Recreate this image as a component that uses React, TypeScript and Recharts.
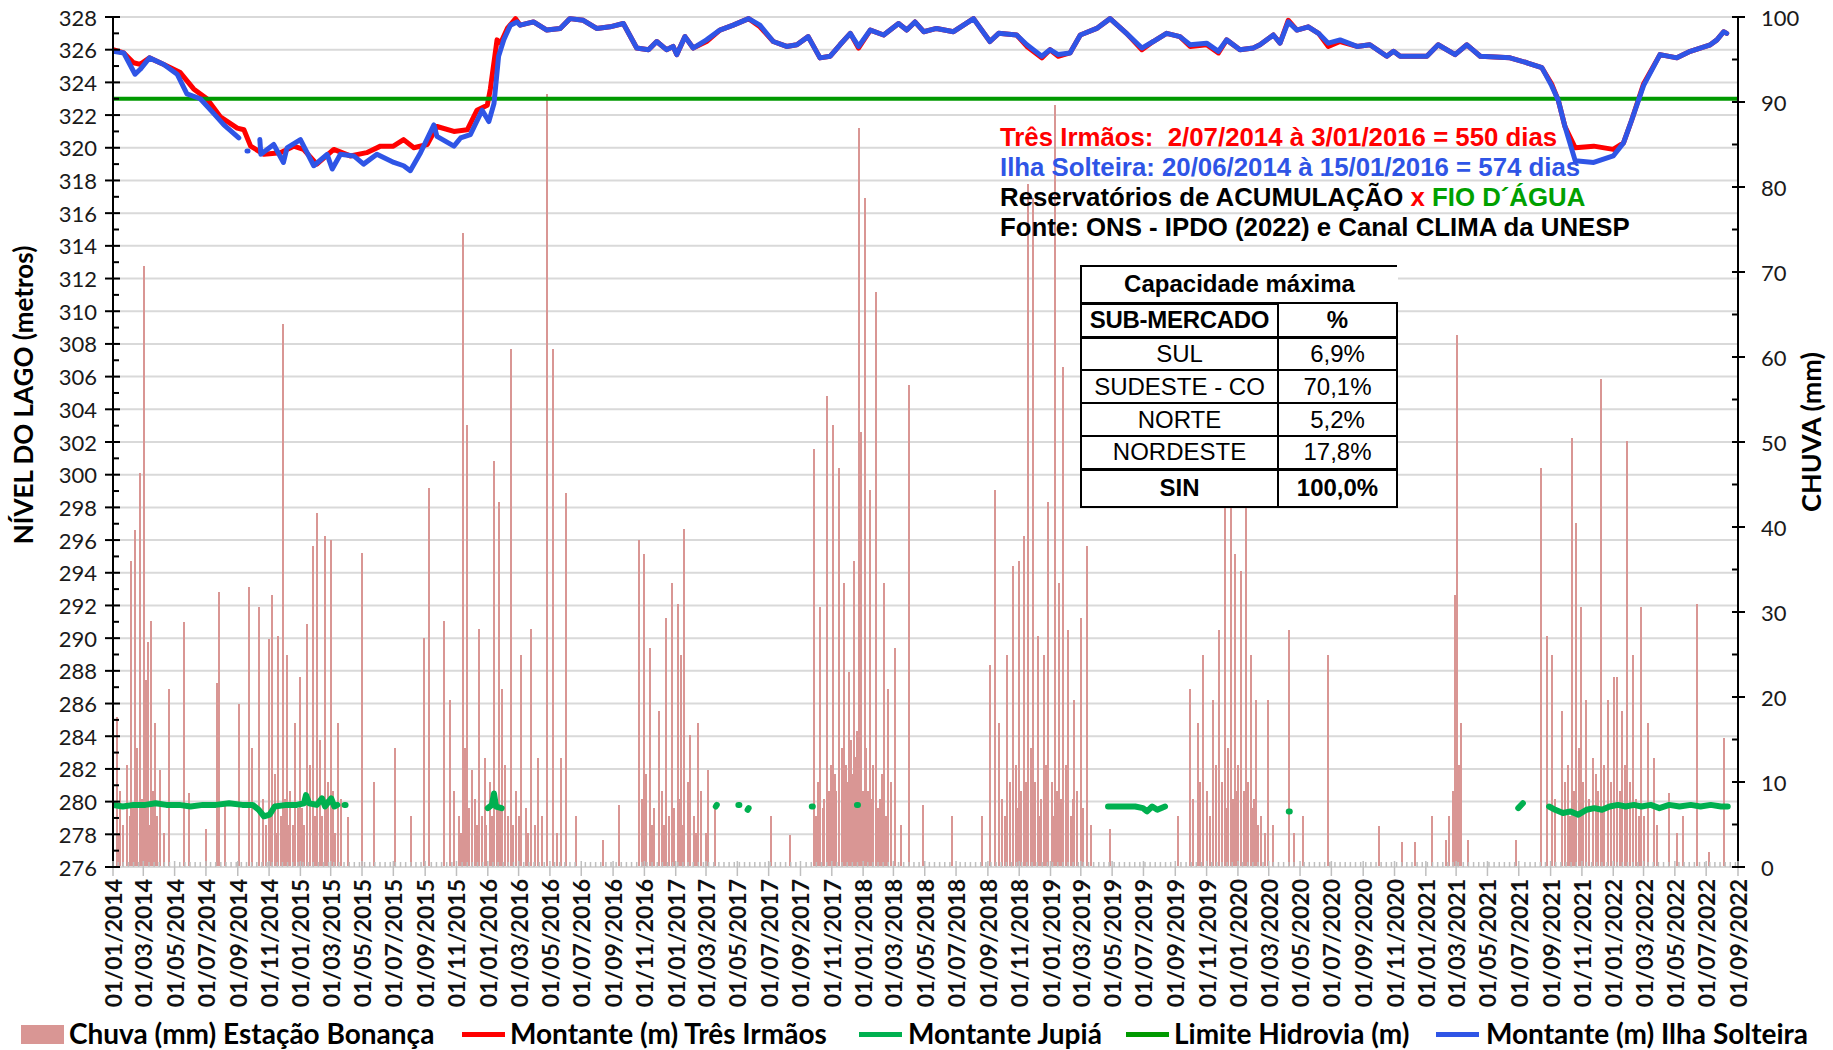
import React from 'react';
import { ComposedChart, Bar, Line, XAxis, YAxis, CartesianGrid } from 'recharts';

// ---- data ----
const START = '2014-01-01';
const END = '2022-09-01';

const levelTicks = [276, 278, 280, 282, 284, 286, 288, 290, 292, 294, 296, 298, 300, 302, 304, 306, 308, 310, 312, 314, 316, 318, 320, 322, 324, 326, 328];
const rainTicks = [0, 10, 20, 30, 40, 50, 60, 70, 80, 90, 100];

const limiteHidrovia: [string, number][] = [['2014-01-01', 323], ['2022-09-01', 323]];

const tresIrmaos: [string, number][] = [
  ['2014-01-01', 326.0], ['2014-01-22', 325.8], ['2014-02-10', 325.2], ['2014-02-23', 325.1], ['2014-03-13', 325.5],
  ['2014-04-10', 325.1], ['2014-05-12', 324.6], ['2014-06-07', 323.6], ['2014-07-03', 323.0], ['2014-07-29', 321.9],
  ['2014-08-31', 321.2], ['2014-09-13', 321.1], ['2014-09-26', 320.1], ['2014-10-22', 319.6], ['2014-11-23', 319.7],
  ['2014-12-19', 320.1], ['2015-01-07', 319.9], ['2015-02-02', 319.0], ['2015-03-07', 319.9], ['2015-04-08', 319.5],
  ['2015-05-10', 319.7], ['2015-06-06', 320.1], ['2015-07-01', 320.1], ['2015-07-21', 320.5], ['2015-08-10', 320.0],
  ['2015-09-05', 320.2], ['2015-09-24', 321.3], ['2015-10-27', 321.0], ['2015-11-22', 321.1], ['2015-12-11', 322.3],
  ['2015-12-31', 322.6], ['2016-01-06', 323.6], ['2016-01-19', 326.6], ['2016-01-26', 326.4], ['2016-02-08', 327.3],
  ['2016-02-24', 327.9],
  ['2016-03-04', 327.5], ['2016-03-30', 327.7], ['2016-04-25', 327.2], ['2016-05-21', 327.3], ['2016-06-09', 327.9],
  ['2016-07-05', 327.8], ['2016-07-31', 327.3], ['2016-08-26', 327.4], ['2016-09-21', 327.6], ['2016-10-17', 326.1],
  ['2016-11-09', 326.0], ['2016-11-25', 326.5], ['2016-12-14', 326.0], ['2016-12-27', 326.2], ['2017-01-03', 325.7],
  ['2017-01-19', 326.8], ['2017-02-04', 326.1], ['2017-03-02', 326.5], ['2017-03-28', 327.2], ['2017-04-23', 327.5],
  ['2017-05-23', 327.9], ['2017-06-14', 327.4], ['2017-07-10', 326.5], ['2017-08-05', 326.2], ['2017-08-25', 326.3],
  ['2017-09-16', 326.8], ['2017-10-09', 325.5], ['2017-10-29', 325.6], ['2017-11-17', 326.3], ['2017-12-07', 327.0],
  ['2017-12-23', 326.1], ['2018-01-15', 327.2], ['2018-02-10', 326.9], ['2018-03-11', 327.6], ['2018-03-27', 327.2],
  ['2018-04-12', 327.7], ['2018-04-29', 327.1], ['2018-05-24', 327.3], ['2018-06-26', 327.1], ['2018-08-04', 327.9],
  ['2018-09-05', 326.5], ['2018-09-22', 327.0], ['2018-10-27', 326.9], ['2018-11-16', 326.2], ['2018-12-15', 325.5],
  ['2018-12-31', 326.0], ['2019-01-16', 325.6], ['2019-02-08', 325.8], ['2019-02-28', 326.9], ['2019-04-01', 327.3],
  ['2019-04-27', 327.9], ['2019-05-29', 327.0], ['2019-06-28', 326.0], ['2019-07-20', 326.5], ['2019-08-15', 327.0],
  ['2019-09-10', 326.8], ['2019-09-30', 326.2], ['2019-11-01', 326.3], ['2019-11-24', 325.8], ['2019-12-10', 326.6],
  ['2020-01-05', 326.0], ['2020-01-31', 326.1], ['2020-02-13', 326.3], ['2020-03-10', 326.9], ['2020-03-23', 326.4],
  ['2020-04-08', 327.8], ['2020-04-25', 327.2], ['2020-05-17', 327.4], ['2020-06-06', 327.0], ['2020-06-25', 326.2],
  ['2020-07-18', 326.5], ['2020-08-20', 326.2], ['2020-09-14', 326.3], ['2020-10-17', 325.6], ['2020-10-30', 325.9],
  ['2020-11-12', 325.6], ['2021-01-03', 325.6], ['2021-01-25', 326.3], ['2021-02-27', 325.7], ['2021-03-22', 326.3],
  ['2021-04-17', 325.6], ['2021-06-14', 325.5], ['2021-07-17', 325.2], ['2021-08-15', 324.9], ['2021-09-03', 323.9],
  ['2021-09-16', 322.9], ['2021-09-29', 321.3], ['2021-10-19', 320.0], ['2021-11-24', 320.1], ['2022-01-01', 319.9],
  ['2022-01-21', 320.3], ['2022-02-06', 321.7], ['2022-03-01', 323.9], ['2022-04-02', 325.7], ['2022-05-05', 325.5],
  ['2022-05-31', 325.9], ['2022-07-09', 326.3], ['2022-07-22', 326.6], ['2022-08-04', 327.1], ['2022-08-10', 327.0],
];

const ilhaSolteira: [string, number | null][] = [
  ['2014-01-01', 325.9], ['2014-01-22', 325.8], ['2014-02-13', 324.5], ['2014-02-23', 324.8], ['2014-03-13', 325.5],
  ['2014-04-10', 325.1], ['2014-05-06', 324.5], ['2014-05-25', 323.3], ['2014-06-20', 323.0], ['2014-07-16', 322.1],
  ['2014-08-05', 321.4], ['2014-09-03', 320.6], ['2014-09-10', null], ['2014-09-19', 319.8], ['2014-09-21', 319.8],
  ['2014-09-30', null], ['2014-10-14', 320.5], ['2014-10-16', 319.6], ['2014-11-10', 320.2], ['2014-11-29', 319.1],
  ['2014-12-06', 320.0], ['2015-01-01', 320.5], ['2015-01-27', 318.9], ['2015-02-22', 319.6], ['2015-03-04', 318.7],
  ['2015-03-20', 319.6], ['2015-04-15', 319.5], ['2015-05-04', 319.0], ['2015-05-30', 319.6], ['2015-07-02', 319.1],
  ['2015-07-21', 318.9], ['2015-08-03', 318.6], ['2015-08-23', 319.7], ['2015-09-18', 321.4], ['2015-09-24', 320.7],
  ['2015-10-27', 320.1], ['2015-11-09', 320.6], ['2015-11-28', 320.8], ['2015-12-21', 322.3], ['2016-01-03', 321.6],
  ['2016-01-13', 322.7], ['2016-01-22', 325.6], ['2016-02-01', 326.6], ['2016-02-14', 327.5], ['2016-02-27', 327.7],
  ['2016-03-04', 327.5], ['2016-03-30', 327.7], ['2016-04-25', 327.2], ['2016-05-21', 327.3], ['2016-06-09', 327.9],
  ['2016-07-05', 327.8], ['2016-07-31', 327.3], ['2016-08-26', 327.4], ['2016-09-21', 327.6], ['2016-10-17', 326.1],
  ['2016-11-09', 326.0], ['2016-11-25', 326.5], ['2016-12-14', 326.0], ['2016-12-27', 326.2], ['2017-01-03', 325.7],
  ['2017-01-19', 326.8], ['2017-02-04', 326.1], ['2017-03-02', 326.6], ['2017-03-28', 327.2], ['2017-04-23', 327.5],
  ['2017-05-23', 327.9], ['2017-06-14', 327.5], ['2017-07-10', 326.5], ['2017-08-05', 326.2], ['2017-08-25', 326.3],
  ['2017-09-16', 326.8], ['2017-10-09', 325.5], ['2017-10-29', 325.6], ['2017-11-17', 326.3], ['2017-12-07', 327.0],
  ['2017-12-23', 326.2], ['2018-01-15', 327.2], ['2018-02-10', 326.9], ['2018-03-11', 327.6], ['2018-03-27', 327.2],
  ['2018-04-12', 327.7], ['2018-04-29', 327.1], ['2018-05-24', 327.3], ['2018-06-26', 327.1], ['2018-08-04', 327.9],
  ['2018-09-05', 326.5], ['2018-09-22', 327.0], ['2018-10-27', 326.9], ['2018-11-16', 326.3], ['2018-12-15', 325.6],
  ['2018-12-31', 326.0], ['2019-01-16', 325.7], ['2019-02-08', 325.8], ['2019-02-28', 326.9], ['2019-04-01', 327.3],
  ['2019-04-27', 327.9], ['2019-05-29', 327.0], ['2019-06-28', 326.1], ['2019-07-20', 326.5], ['2019-08-15', 327.0],
  ['2019-09-10', 326.8], ['2019-09-30', 326.3], ['2019-11-01', 326.4], ['2019-11-24', 325.9], ['2019-12-10', 326.6],
  ['2020-01-05', 326.0], ['2020-01-31', 326.1], ['2020-02-13', 326.3], ['2020-03-10', 326.9], ['2020-03-23', 326.4],
  ['2020-04-08', 327.7], ['2020-04-25', 327.2], ['2020-05-17', 327.4], ['2020-06-06', 327.0], ['2020-06-25', 326.4],
  ['2020-07-18', 326.6], ['2020-08-20', 326.2], ['2020-09-14', 326.3], ['2020-10-17', 325.6], ['2020-10-30', 325.9],
  ['2020-11-12', 325.6], ['2021-01-03', 325.6], ['2021-01-25', 326.3], ['2021-02-27', 325.7], ['2021-03-22', 326.3],
  ['2021-04-17', 325.6], ['2021-06-14', 325.5], ['2021-07-17', 325.2], ['2021-08-15', 324.9], ['2021-09-03', 323.8],
  ['2021-09-16', 322.9], ['2021-09-29', 321.3], ['2021-10-19', 319.2], ['2021-11-24', 319.1], ['2022-01-01', 319.5],
  ['2022-01-21', 320.3], ['2022-02-06', 321.7], ['2022-03-01', 323.8], ['2022-04-02', 325.7], ['2022-05-05', 325.5],
  ['2022-05-31', 325.9], ['2022-07-09', 326.3], ['2022-07-22', 326.6], ['2022-08-04', 327.1], ['2022-08-10', 327.0],
];

const jupia: [string, number | null][] = [
  ['2014-01-01', 279.8], ['2014-01-20', 279.7], ['2014-02-10', 279.8], ['2014-03-05', 279.8], ['2014-03-25', 279.9],
  ['2014-04-15', 279.8], ['2014-05-10', 279.8], ['2014-06-01', 279.7], ['2014-06-25', 279.8], ['2014-07-20', 279.8],
  ['2014-08-15', 279.9], ['2014-09-10', 279.8], ['2014-09-30', 279.8], ['2014-10-12', 279.5], ['2014-10-22', 279.1],
  ['2014-11-02', 279.2], ['2014-11-12', 279.7], ['2014-12-05', 279.8], ['2014-12-25', 279.8], ['2015-01-08', 279.9],
  ['2015-01-12', 280.4], ['2015-01-18', 279.9], ['2015-02-02', 279.8], ['2015-02-12', 280.2], ['2015-02-18', 279.7],
  ['2015-03-02', 280.2], ['2015-03-08', 279.7], ['2015-03-14', 279.8], ['2015-03-20', null],
  ['2015-03-28', 279.8], ['2015-03-30', 279.8], ['2015-04-05', null],
  ['2016-01-01', 279.6], ['2016-01-09', 279.8], ['2016-01-13', 280.5], ['2016-01-17', 279.7], ['2016-01-28', 279.6], ['2016-02-05', null],
  ['2017-03-20', 279.7], ['2017-03-22', 279.8], ['2017-04-01', null],
  ['2017-05-03', 279.8], ['2017-05-05', 279.8], ['2017-05-12', null],
  ['2017-05-21', 279.5], ['2017-05-23', 279.6], ['2017-06-01', null],
  ['2017-09-23', 279.7], ['2017-09-25', 279.7], ['2017-10-05', null],
  ['2017-12-20', 279.8], ['2017-12-22', 279.8], ['2018-01-01', null],
  ['2019-04-23', 279.7], ['2019-05-20', 279.7], ['2019-06-15', 279.7], ['2019-06-30', 279.6], ['2019-07-08', 279.4],
  ['2019-07-18', 279.7], ['2019-07-28', 279.5], ['2019-08-12', 279.7], ['2019-08-20', null],
  ['2020-04-09', 279.4], ['2020-04-11', 279.4], ['2020-04-20', null],
  ['2021-06-30', 279.6], ['2021-07-09', 279.9], ['2021-07-20', null],
  ['2021-08-29', 279.7], ['2021-09-10', 279.5], ['2021-09-25', 279.3], ['2021-10-10', 279.4], ['2021-10-25', 279.2],
  ['2021-11-10', 279.5], ['2021-11-25', 279.6], ['2021-12-10', 279.5], ['2021-12-25', 279.7], ['2022-01-10', 279.8],
  ['2022-01-25', 279.7], ['2022-02-10', 279.8], ['2022-02-25', 279.7], ['2022-03-15', 279.8], ['2022-04-01', 279.6],
  ['2022-04-20', 279.8], ['2022-05-10', 279.7], ['2022-06-01', 279.8], ['2022-06-20', 279.7], ['2022-07-10', 279.8],
  ['2022-07-30', 279.7], ['2022-08-12', 279.7],
];

// daily rain (mm), Estação Bonança
const rain2014: [string, number][] = [
  ['2014-01-08', 17.6], ['2014-01-11', 4], ['2014-01-15', 9], ['2014-01-21', 5], ['2014-01-28', 12], ['2014-02-03', 6],
  ['2014-02-06', 36], ['2014-02-09', 7], ['2014-02-13', 39.6], ['2014-02-17', 14], ['2014-02-22', 46.4], ['2014-02-26', 8],
  ['2014-03-03', 70.7], ['2014-03-07', 22], ['2014-03-10', 26.5], ['2014-03-14', 5], ['2014-03-17', 29], ['2014-03-20', 9],
  ['2014-03-24', 17], ['2014-03-28', 6], ['2014-04-02', 11.4], ['2014-04-10', 4], ['2014-04-20', 21], ['2014-05-20', 28.8],
  ['2014-05-29', 8.7], ['2014-07-02', 4.5], ['2014-07-23', 21.7], ['2014-07-27', 32.4], ['2014-08-08', 7.3], ['2014-09-04', 19.2],
  ['2014-09-22', 33], ['2014-09-29', 14], ['2014-10-13', 30.6], ['2014-10-20', 8], ['2014-10-26', 5], ['2014-10-31', 26.8],
  ['2014-11-03', 6], ['2014-11-07', 32], ['2014-11-12', 11], ['2014-11-15', 4], ['2014-11-18', 27.2], ['2014-11-24', 6],
  ['2014-11-29', 63.9], ['2014-12-03', 8], ['2014-12-06', 25], ['2014-12-09', 5], ['2014-12-12', 9], ['2014-12-17', 5],
  ['2014-12-22', 16.9], ['2014-12-27', 7], ['2014-12-31', 22.4],
];
const rain2015: [string, number][] = [
  ['2015-01-05', 7], ['2015-01-09', 5], ['2015-01-14', 28.6], ['2015-01-20', 12], ['2015-01-25', 37.8], ['2015-01-29', 6],
  ['2015-02-03', 41.6], ['2015-02-08', 15], ['2015-02-12', 6], ['2015-02-17', 38.9], ['2015-02-20', 8], ['2015-02-24', 10],
  ['2015-03-01', 38.5], ['2015-03-05', 9], ['2015-03-10', 4], ['2015-03-16', 17], ['2015-03-22', 8], ['2015-04-04', 5.9],
  ['2015-05-01', 37], ['2015-05-24', 10], ['2015-07-04', 14], ['2015-08-05', 6], ['2015-08-30', 27], ['2015-09-08', 44.6],
  ['2015-10-07', 29], ['2015-10-19', 19.6], ['2015-10-28', 9], ['2015-11-05', 6], ['2015-11-09', 4], ['2015-11-13', 74.6],
  ['2015-11-18', 14], ['2015-11-22', 52], ['2015-11-26', 7], ['2015-12-01', 11.4], ['2015-12-07', 8], ['2015-12-11', 5],
  ['2015-12-15', 28], ['2015-12-20', 6], ['2015-12-26', 12.8], ['2015-12-29', 5],
];
const rain2016: [string, number][] = [
  ['2016-01-05', 10], ['2016-01-09', 6], ['2016-01-13', 47.8], ['2016-01-18', 8], ['2016-01-22', 43], ['2016-01-26', 7],
  ['2016-01-29', 21], ['2016-02-03', 12], ['2016-02-10', 6], ['2016-02-16', 61], ['2016-02-20', 5], ['2016-02-24', 9],
  ['2016-03-01', 6], ['2016-03-06', 25], ['2016-03-15', 7], ['2016-03-20', 4], ['2016-03-26', 28], ['2016-04-02', 5],
  ['2016-04-07', 12.8], ['2016-04-15', 6], ['2016-04-25', 91], ['2016-05-08', 61], ['2016-05-15', 4], ['2016-05-22', 12.8],
  ['2016-06-02', 44], ['2016-06-21', 6], ['2016-08-12', 3.2], ['2016-09-13', 7.3], ['2016-10-22', 38.5], ['2016-10-28', 8],
  ['2016-10-31', 36.8], ['2016-11-05', 11], ['2016-11-11', 25.8], ['2016-11-16', 5], ['2016-11-20', 7], ['2016-11-29', 18.3],
  ['2016-12-05', 9], ['2016-12-09', 5], ['2016-12-13', 29.3], ['2016-12-19', 6], ['2016-12-24', 33.4], ['2016-12-29', 7],
];
const rain2017: [string, number][] = [
  ['2017-01-05', 31], ['2017-01-08', 8], ['2017-01-12', 25], ['2017-01-15', 5], ['2017-01-18', 39.8], ['2017-01-24', 10],
  ['2017-01-28', 15.5], ['2017-02-05', 6], ['2017-02-09', 4], ['2017-02-13', 16.9], ['2017-02-20', 9], ['2017-03-01', 4],
  ['2017-03-05', 11.4], ['2017-03-19', 7.3], ['2017-07-06', 6], ['2017-08-11', 3.8], ['2017-09-28', 49.2], ['2017-10-02', 6],
  ['2017-10-05', 10], ['2017-10-10', 30.6], ['2017-10-14', 7], ['2017-10-17', 8], ['2017-10-23', 55.4], ['2017-10-27', 9],
  ['2017-10-30', 12], ['2017-11-04', 52], ['2017-11-07', 11], ['2017-11-10', 9], ['2017-11-15', 47], ['2017-11-20', 14],
  ['2017-11-24', 33.4], ['2017-11-28', 12], ['2017-12-01', 10], ['2017-12-05', 23], ['2017-12-08', 15], ['2017-12-10', 8],
  ['2017-12-13', 11], ['2017-12-15', 36], ['2017-12-19', 13], ['2017-12-21', 16], ['2017-12-24', 87], ['2017-12-26', 12],
  ['2017-12-28', 51.2], ['2017-12-31', 9],
];
const rain2018: [string, number][] = [
  ['2018-01-04', 78.7], ['2018-01-07', 14], ['2018-01-10', 9], ['2018-01-15', 44.4], ['2018-01-18', 8], ['2018-01-21', 12],
  ['2018-01-27', 67.7], ['2018-01-30', 7], ['2018-02-02', 8], ['2018-02-06', 11], ['2018-02-10', 33.4], ['2018-02-14', 6],
  ['2018-02-19', 21], ['2018-02-25', 10], ['2018-03-04', 25.8], ['2018-03-15', 5], ['2018-04-01', 56.7], ['2018-04-28', 7.3],
  ['2018-06-24', 6], ['2018-08-20', 6], ['2018-09-05', 23.8], ['2018-09-14', 44.4], ['2018-09-23', 16.9], ['2018-09-28', 8],
  ['2018-10-04', 6], ['2018-10-09', 25], ['2018-10-14', 10], ['2018-10-20', 35.4], ['2018-10-26', 12], ['2018-10-29', 7],
  ['2018-11-01', 36], ['2018-11-05', 9], ['2018-11-10', 38.9], ['2018-11-14', 10], ['2018-11-19', 80.4], ['2018-11-24', 14],
  ['2018-11-28', 78.7], ['2018-12-02', 10], ['2018-12-07', 27.2], ['2018-12-10', 6], ['2018-12-13', 8], ['2018-12-19', 25],
  ['2018-12-23', 12], ['2018-12-28', 43],
];
const rain2019: [string, number][] = [
  ['2019-01-04', 10], ['2019-01-07', 6], ['2019-01-10', 89.7], ['2019-01-14', 9], ['2019-01-17', 33.4], ['2019-01-21', 8],
  ['2019-01-26', 58.8], ['2019-01-31', 12], ['2019-02-04', 27.9], ['2019-02-10', 6], ['2019-02-13', 8], ['2019-02-16', 19.6],
  ['2019-02-22', 9], ['2019-03-01', 29.3], ['2019-03-06', 7], ['2019-03-13', 37.8], ['2019-03-20', 5], ['2019-04-27', 4.5],
  ['2019-09-06', 6], ['2019-09-29', 21], ['2019-10-05', 8], ['2019-10-15', 17], ['2019-10-20', 10], ['2019-10-26', 25],
  ['2019-11-02', 9], ['2019-11-08', 6], ['2019-11-14', 19.6], ['2019-11-20', 12], ['2019-11-25', 27.9], ['2019-12-01', 10],
  ['2019-12-06', 44.4], ['2019-12-09', 7], ['2019-12-12', 14], ['2019-12-18', 42.3], ['2019-12-22', 8], ['2019-12-27', 36.8],
  ['2019-12-30', 9],
];
const rain2020: [string, number][] = [
  ['2020-01-02', 12], ['2020-01-07', 34.8], ['2020-01-12', 9], ['2020-01-16', 42.3], ['2020-01-21', 10], ['2020-01-26', 25],
  ['2020-01-29', 7], ['2020-02-01', 8], ['2020-02-06', 19.6], ['2020-02-10', 5], ['2020-02-15', 6], ['2020-02-22', 4],
  ['2020-02-29', 19.6], ['2020-03-10', 5], ['2020-04-10', 27.9], ['2020-04-20', 4], ['2020-05-07', 6], ['2020-06-24', 25],
  ['2020-10-02', 4.8], ['2020-11-15', 3], ['2020-12-10', 3],
];
const rain2021: [string, number][] = [
  ['2021-01-14', 6], ['2021-02-09', 3.2], ['2021-02-15', 6], ['2021-02-22', 9], ['2021-02-27', 32], ['2021-03-03', 62.6],
  ['2021-03-06', 12], ['2021-03-10', 17], ['2021-03-24', 3.2], ['2021-06-25', 3.2], ['2021-08-14', 47], ['2021-08-26', 27.2],
  ['2021-09-04', 25], ['2021-09-10', 8], ['2021-09-24', 18.3], ['2021-09-30', 10], ['2021-10-05', 12], ['2021-10-08', 6],
  ['2021-10-12', 50.5], ['2021-10-16', 9], ['2021-10-21', 40.5], ['2021-10-26', 14], ['2021-10-31', 30.6], ['2021-11-04', 10],
  ['2021-11-09', 19.6], ['2021-11-15', 8], ['2021-11-22', 12.8], ['2021-11-28', 11], ['2021-12-03', 9], ['2021-12-08', 57.4],
  ['2021-12-12', 7], ['2021-12-15', 12], ['2021-12-22', 19.6], ['2021-12-28', 10],
];
const rain2022: [string, number][] = [
  ['2022-01-03', 22.4], ['2022-01-09', 22.4], ['2022-01-14', 9], ['2022-01-19', 18.3], ['2022-01-24', 12], ['2022-01-28', 50.1],
  ['2022-02-02', 10], ['2022-02-08', 25], ['2022-02-15', 8], ['2022-02-20', 6], ['2022-02-24', 30.6], ['2022-03-02', 6],
  ['2022-03-10', 16.9], ['2022-03-21', 12.8], ['2022-03-28', 5], ['2022-04-20', 8.7], ['2022-05-05', 4], ['2022-05-17', 6],
  ['2022-06-13', 31], ['2022-07-06', 1.8], ['2022-08-05', 15.2],
];

const subMercados = ['SUL', 'SUDESTE - CO', 'NORTE', 'NORDESTE'];
const capacidade = ['6,9%', '70,1%', '5,2%', '17,8%'];

// ---- helpers ----
const DAY = 86400000;
const toDay = (s: string) => Date.parse(s) / DAY;
const pad = (n: number) => (n < 10 ? '0' + n : '' + n);
const fmtDate = (d: number) => {
  const dt = new Date(Math.round(d) * DAY);
  return `${pad(dt.getUTCDate())}/${pad(dt.getUTCMonth() + 1)}/${dt.getUTCFullYear()}`;
};

const x0 = toDay(START);
const x1 = toDay(END);

// major ticks every two months, minor ticks every 10 days
const majorTicks: number[] = [];
for (let y = 2014; y <= 2022; y++) {
  for (let m = 1; m <= 11; m += 2) {
    const d = toDay(`${y}-${pad(m)}-01`);
    if (d <= x1) majorTicks.push(d);
  }
}
const majorSet = new Set(majorTicks);
const minorTicks: number[] = [];
for (let d = x0 + 10; d < x1; d += 10) {
  if (!majorTicks.some((m) => Math.abs(m - d) < 3)) minorTicks.push(d);
}
const xTicks = [...majorTicks, ...minorTicks].sort((a, b) => a - b);

const levelAllTicks = levelTicks.flatMap((v) => (v < 328 ? [v, v + 1] : [v]));
const rainAllTicks = rainTicks.flatMap((v) => (v < 100 ? [v, v + 5] : [v]));

const rainRows = [...rain2014, ...rain2015, ...rain2016, ...rain2017, ...rain2018, ...rain2019, ...rain2020, ...rain2021, ...rain2022]
  .map(([d, mm]) => ({ t: toDay(d), rain: mm }));
const toRows = (arr: [string, number | null][]) => arr.map(([d, v]) => ({ t: toDay(d), v }));

const RED = '#FF0000';
const BLUE = '#2F55E6';
const JUPIA = '#00B050';
const LIMIT = '#009900';
const RAIN = '#D99694';

const tickFont = 'Lato, "Open Sans", sans-serif';
const arial = '"Liberation Sans", Arial, sans-serif';

// thin solid rain bar snapped to whole pixels
function RainBar(props: any) {
  const { x, y, width, height } = props;
  if (!height || height <= 0) return null;
  const cx = Math.round(x + width / 2);
  return <rect x={cx - 1} y={y} width={2} height={height} fill={RAIN} shapeRendering="crispEdges" />;
}

function XTick(props: any) {
  const { x, y, payload } = props;
  const major = majorSet.has(payload.value);
  return (
    <g>
      <line x1={x} x2={x} y1={major ? y - 6 : y - 5} y2={major ? y + 9 : y} stroke="#BFBFBF" strokeWidth={1.5} />
      {major && (
        <text
          x={x}
          y={y + 12}
          transform={`rotate(-90 ${x} ${y + 12})`}
          textAnchor="end"
          dominantBaseline="central"
          fontFamily={tickFont}
          fontWeight={700}
          fontSize={23}
          fill="#111"
        >
          {fmtDate(payload.value)}
        </text>
      )}
    </g>
  );
}

function LeftTick(props: any) {
  const { x, y, payload } = props;
  const ax = x + 12;
  const major = payload.value % 2 === 0;
  return (
    <g>
      <line x1={major ? ax - 8 : ax} x2={ax + (major ? 7 : 6)} y1={y} y2={y} stroke="#000" strokeWidth={2} />
      {major && (
        <text x={ax - 16} y={y} textAnchor="end" dominantBaseline="central" fontFamily={tickFont} fontSize={22} fill="#1a1a1a">
          {payload.value}
        </text>
      )}
    </g>
  );
}

function RightTick(props: any) {
  const { x, y, payload } = props;
  const ax = x - 12;
  const major = payload.value % 10 === 0;
  return (
    <g>
      <line x1={ax - 6} x2={major ? ax + 7 : ax} y1={y} y2={y} stroke="#000" strokeWidth={2} />
      {major && (
        <text x={ax + 23} y={y} textAnchor="start" dominantBaseline="central" fontFamily={tickFont} fontSize={22} fill="#1a1a1a">
          {payload.value}
        </text>
      )}
    </g>
  );
}

const cell: React.CSSProperties = { border: '2px solid #000', padding: 0, textAlign: 'center' };

const legendItems = [
  { label: 'Chuva (mm) Estação Bonança', color: RAIN, box: true, swatchX: 21, textX: 69 },
  { label: 'Montante (m) Três Irmãos', color: RED, box: false, swatchX: 462, textX: 510 },
  { label: 'Montante Jupiá', color: JUPIA, box: false, swatchX: 859, textX: 908 },
  { label: 'Limite Hidrovia (m)', color: LIMIT, box: false, swatchX: 1126, textX: 1174 },
  { label: 'Montante (m) Ilha Solteira', color: BLUE, box: false, swatchX: 1436, textX: 1486 },
];

export default function App() {
  return (
    <div style={{ position: 'absolute', left: 0, top: 0, width: 1833, height: 1050, background: '#fff', overflow: 'hidden' }}>
      <ComposedChart width={1833} height={1050} data={rainRows} margin={{ top: 17, right: 35, bottom: 43, left: 43 }}>
        <CartesianGrid yAxisId="lvl" vertical={false} horizontalValues={levelTicks} stroke="#D9D9D9" strokeWidth={2} />
        <XAxis
          dataKey="t"
          type="number"
          domain={[x0, x1]}
          allowDataOverflow
          ticks={xTicks}
          interval={0}
          height={140}
          tickSize={0}
          tickMargin={0}
          tick={<XTick />}
          axisLine={{ stroke: '#D9D9D9', strokeWidth: 2 }}
          tickLine={false}
        />
        <YAxis
          yAxisId="lvl"
          orientation="left"
          domain={[276, 328]}
          ticks={levelAllTicks}
          interval={0}
          width={70}
          tickSize={0}
          tickMargin={12}
          tick={<LeftTick />}
          tickLine={false}
          axisLine={{ stroke: '#000', strokeWidth: 2 }}
        />
        <YAxis
          yAxisId="rain"
          orientation="right"
          domain={[0, 100]}
          ticks={rainAllTicks}
          interval={0}
          width={60}
          tickSize={0}
          tickMargin={12}
          tick={<RightTick />}
          tickLine={false}
          axisLine={{ stroke: '#000', strokeWidth: 2 }}
        />
        <Bar yAxisId="rain" dataKey="rain" fill={RAIN} barSize={2} shape={<RainBar />} isAnimationActive={false} />
        <Line yAxisId="lvl" data={toRows(tresIrmaos)} dataKey="v" stroke={RED} strokeWidth={5} dot={false} type="linear" strokeLinecap="round" strokeLinejoin="round" isAnimationActive={false} />
        <Line yAxisId="lvl" data={toRows(jupia)} dataKey="v" stroke={JUPIA} strokeWidth={6} dot={false} type="linear" strokeLinecap="round" strokeLinejoin="round" isAnimationActive={false} />
        <Line yAxisId="lvl" data={toRows(limiteHidrovia)} dataKey="v" stroke={LIMIT} strokeWidth={4} dot={false} type="linear" isAnimationActive={false} />
        <Line yAxisId="lvl" data={toRows(ilhaSolteira)} dataKey="v" stroke={BLUE} strokeWidth={5} dot={false} type="linear" strokeLinecap="round" strokeLinejoin="round" isAnimationActive={false} />
      </ComposedChart>

      {/* axis titles */}
      <div style={{ position: 'absolute', left: 23, top: 395, transform: 'translate(-50%, -50%) rotate(-90deg)', whiteSpace: 'nowrap', fontFamily: tickFont, fontWeight: 700, fontSize: 26, color: '#000' }}>
        NÍVEL DO LAGO (metros)
      </div>
      <div style={{ position: 'absolute', left: 1810, top: 432, transform: 'translate(-50%, -50%) rotate(-90deg)', whiteSpace: 'nowrap', fontFamily: tickFont, fontWeight: 700, fontSize: 27, color: '#000' }}>
        CHUVA (mm)
      </div>

      {/* annotations */}
      <div style={{ position: 'absolute', left: 1000, top: 122, fontFamily: arial, fontWeight: 700, fontSize: 25.8, lineHeight: '30px', whiteSpace: 'pre' }}>
        <div style={{ color: RED }}>Três Irmãos:  2/07/2014 à 3/01/2016 = 550 dias</div>
        <div style={{ color: BLUE }}>Ilha Solteira: 20/06/2014 à 15/01/2016 = 574 dias</div>
        <div style={{ color: '#000' }}>
          Reservatórios de ACUMULAÇÃO <span style={{ color: RED }}>x</span> <span style={{ color: '#00A000' }}>FIO D´ÁGUA</span>
        </div>
        <div style={{ color: '#000' }}>Fonte: ONS - IPDO (2022) e Canal CLIMA da UNESP</div>
      </div>

      {/* table */}
      <table style={{ position: 'absolute', left: 1080, top: 265, width: 318, borderCollapse: 'collapse', fontFamily: arial, fontSize: 24, color: '#000', background: '#fff' }}>
        <tbody>
          <tr style={{ height: 37 }}>
            <td colSpan={2} style={{ ...cell, borderRight: 'none', fontWeight: 700 }}>Capacidade máxima</td>
          </tr>
          <tr style={{ height: 34 }}>
            <td style={{ ...cell, width: 195, fontWeight: 700, borderTopWidth: 3, borderBottomWidth: 3, letterSpacing: -0.3 }}>SUB-MERCADO</td>
            <td style={{ ...cell, fontWeight: 700, borderBottomWidth: 3 }}>%</td>
          </tr>
          {subMercados.map((s, i) => (
            <tr key={s} style={{ height: 33 }}>
              <td style={cell}>{s}</td>
              <td style={cell}>{capacidade[i]}</td>
            </tr>
          ))}
          <tr style={{ height: 38 }}>
            <td style={{ ...cell, fontWeight: 700, borderTopWidth: 3 }}>SIN</td>
            <td style={{ ...cell, fontWeight: 700, borderTopWidth: 3 }}>100,0%</td>
          </tr>
        </tbody>
      </table>

      {/* legend */}
      {legendItems.map((it) => (
        <React.Fragment key={it.label}>
          <div
            style={{
              position: 'absolute',
              left: it.swatchX,
              top: it.box ? 1025 : 1032,
              width: 43,
              height: it.box ? 19 : 5,
              background: it.color,
            }}
          />
          <div style={{ position: 'absolute', left: it.textX, top: 1018, lineHeight: '30px', fontFamily: tickFont, fontWeight: 700, fontSize: 28, color: '#000', whiteSpace: 'nowrap' }}>
            {it.label}
          </div>
        </React.Fragment>
      ))}
    </div>
  );
}
